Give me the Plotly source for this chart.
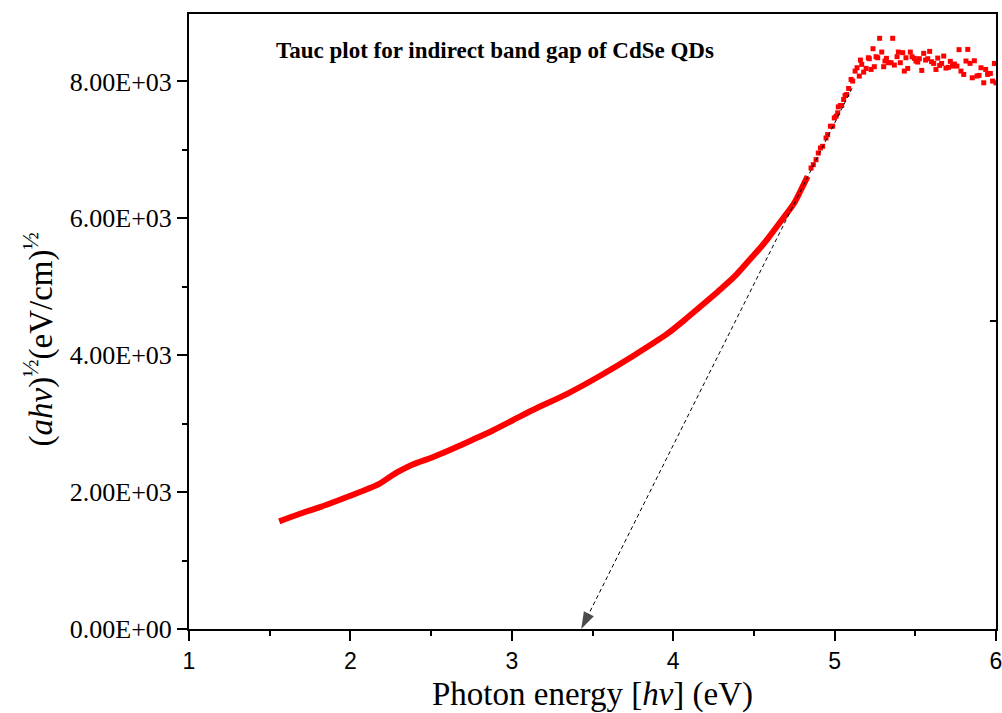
import plotly.graph_objects as go

# Smooth (dense) part of the Tauc curve
energy_smooth = [1.559, 1.683, 1.807, 1.931, 2.055, 2.179, 2.241, 2.303, 2.386, 2.510,
                 2.634, 2.758, 2.882, 3.006, 3.140, 3.346, 3.553, 3.759, 3.966, 4.069,
                 4.172, 4.276, 4.379, 4.482, 4.544, 4.585, 4.668, 4.750, 4.792, 4.833]
tauc_smooth = [1572, 1680, 1778, 1885, 1997, 2120, 2217, 2305, 2403, 2510,
               2633, 2765, 2901, 3050, 3210, 3439, 3707, 4000, 4318, 4513,
               4718, 4928, 5147, 5417, 5580, 5700, 5960, 6223, 6417, 6612]

# Sparse part (steep rise and noisy plateau)
energy_sparse = [4.854, 4.868, 4.885, 4.899, 4.912, 4.926, 4.947, 4.957, 4.974, 4.988,
                 4.998, 5.009, 5.019, 5.023, 5.036, 5.044, 5.056, 5.065, 5.075, 5.087,
                 5.102, 5.112, 5.127, 5.139, 5.153, 5.160, 5.168, 5.180, 5.195, 5.209,
                 5.215, 5.226, 5.238, 5.246, 5.257, 5.267, 5.279, 5.292, 5.304, 5.312,
                 5.321, 5.333, 5.350, 5.360, 5.370, 5.387, 5.395, 5.407, 5.422, 5.432,
                 5.442, 5.453, 5.469, 5.480, 5.494, 5.504, 5.515, 5.525, 5.540, 5.552,
                 5.564, 5.577, 5.589, 5.601, 5.614, 5.628, 5.639, 5.651, 5.663, 5.676,
                 5.690, 5.705, 5.717, 5.730, 5.742, 5.758, 5.771, 5.783, 5.800, 5.814,
                 5.825, 5.839, 5.853, 5.866, 5.882, 5.895, 5.907, 5.924, 5.936, 5.948,
                 5.965, 5.979, 5.990, 6.000]
tauc_sparse = [6735, 6784, 6857, 6954, 7028, 7052, 7174, 7223, 7345, 7345,
               7467, 7492, 7541, 7628, 7648, 7648, 7736, 7795, 7809, 7897,
               8029, 8005, 8151, 8200, 8078, 8312, 8249, 8136, 8190, 8346,
               8332, 8175, 8478, 8215, 8361, 8346, 8630, 8429, 8215, 8298,
               8337, 8273, 8273, 8630, 8239, 8361, 8429, 8273, 8420, 8151,
               8346, 8190, 8429, 8361, 8337, 8298, 8283, 8332, 8161, 8410,
               8312, 8332, 8439, 8288, 8263, 8175, 8341, 8234, 8263, 8371,
               8195, 8205, 8293, 8224, 8254, 8224, 8464, 8151, 8102, 8298,
               8468, 8263, 8053, 8302, 8078, 8088, 8200, 7980, 8175, 8102,
               8117, 8005, 8263, 7980]

# Extrapolation arrow (start -> tip on energy axis)
arrow_x = [5.108, 3.430]
arrow_y = [7900, 0]

# Axis ticks
x_ticks = [1, 2, 3, 4, 5, 6]
y_tickvals = [0, 2000, 4000, 6000, 8000]
y_ticktext = ["0.00E+00", "2.00E+03", "4.00E+03", "6.00E+03", "8.00E+03"]
y_minor = [1000, 3000, 5000, 7000]

RED = "#ff0000"
SERIF = "Liberation Serif"
SANS = "Liberation Sans"

fig = go.Figure()
fig.add_trace(go.Scatter(
    x=energy_smooth, y=tauc_smooth, mode="lines",
    line=dict(color=RED, width=6, shape="spline", smoothing=0.8),
    showlegend=False, hoverinfo="skip"))
fig.add_trace(go.Scatter(
    x=energy_sparse, y=tauc_sparse, mode="markers",
    marker=dict(symbol="square", size=5, color=RED),
    showlegend=False, hoverinfo="skip"))
fig.add_trace(go.Scatter(
    x=arrow_x, y=arrow_y, mode="lines+markers",
    line=dict(color="black", width=1, dash="4px,3px"),
    marker=dict(symbol="arrow", size=[0, 18], color="black", angleref="previous",
                line=dict(width=0)),
    showlegend=False, hoverinfo="skip", cliponaxis=False))

fig.add_annotation(
    x=0.379, y=0.94, xref="paper", yref="paper", xanchor="center", yanchor="middle",
    text="<b>Tauc plot for indirect band gap of CdSe QDs</b>", showarrow=False,
    font=dict(family=SERIF, size=23, color="black"))

# y-axis title
fig.add_annotation(
    x=-0.187, y=0.471, xref="paper", yref="paper", xanchor="center", yanchor="middle",
    text="(<i>ahv</i>)<sup>½</sup>(eV/cm)<sup>½</sup>", textangle=-90, showarrow=False,
    font=dict(family=SERIF, size=33, color="black"))

# small inward tick on the right frame
fig.add_shape(type="line", xref="paper", yref="y", x0=0.9925, x1=1.0, y0=4500, y1=4500,
              line=dict(color="black", width=2))

fig.update_layout(
    width=1002, height=713,
    margin=dict(l=189, r=6, t=14, b=84, autoexpand=False),
    paper_bgcolor="white", plot_bgcolor="white",
    xaxis=dict(
        range=[1, 6], tickmode="array", tickvals=x_ticks, automargin=False,
        ticklabeloverflow="allow",
        ticks="outside", ticklen=10, tickwidth=2, tickcolor="black",
        minor=dict(tickmode="linear", tick0=1, dtick=0.5, ticks="outside", ticklen=5,
                   tickwidth=2, tickcolor="black"),
        showline=True, linecolor="black", linewidth=2, mirror=True,
        showgrid=False, zeroline=False,
        tickfont=dict(family=SANS, size=23, color="black"),
        title=dict(text="Photon energy [<i>hv</i>] (eV)",
                   font=dict(family=SERIF, size=33, color="black"), standoff=10),
    ),
    yaxis=dict(
        range=[0, 8985], tickmode="array", tickvals=y_tickvals, ticktext=y_ticktext,
        automargin=False,
        ticks="outside", ticklen=10, tickwidth=2, tickcolor="black",
        minor=dict(tickmode="array", tickvals=y_minor, ticks="outside", ticklen=5,
                   tickwidth=2, tickcolor="black"),
        showline=True, linecolor="black", linewidth=2, mirror=True,
        showgrid=False, zeroline=False,
        tickfont=dict(family=SERIF, size=26, color="black"),
    ),
)

fig.write_html("out.html")
